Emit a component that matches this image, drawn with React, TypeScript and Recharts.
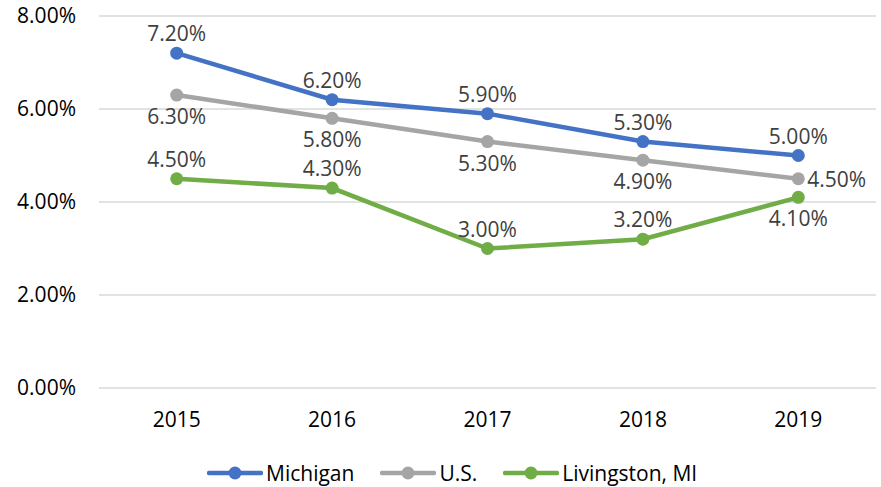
import React from "react"
import {
  LineChart, Line, XAxis, YAxis, CartesianGrid, Legend, LabelList,
} from "recharts"

const years     = ["2015", "2016", "2017", "2018", "2019"]
const michigan  = [7.2, 6.2, 5.9, 5.3, 5.0]
const us        = [6.3, 5.8, 5.3, 4.9, 4.5]
const livingston = [4.5, 4.3, 3.0, 3.2, 4.1]
const yTicks    = [0, 2, 4, 6, 8]

const series = [
  { key: "michigan",   name: "Michigan",       color: "#4472C4" },
  { key: "us",         name: "U.S.",           color: "#A5A5A5" },
  { key: "livingston", name: "Livingston, MI", color: "#70AD47" },
]

const data = years.map((year, i) => ({
  year,
  michigan: michigan[i],
  us: us[i],
  livingston: livingston[i],
}))

const FONT = "'Open Sans', sans-serif"
const FS = 21
const fmt = (v: number) => `${Number(v).toFixed(2)}%`

// where each series puts its value labels
const placement: Record<string, (i: number) => "top" | "bottom" | "right"> = {
  michigan:   () => "top",
  us:         (i) => (i === 4 ? "right" : "bottom"),
  livingston: (i) => (i === 4 ? "bottom" : "top"),
}

function makeLabel(key: string) {
  return (props: any) => {
    const { x, y, value, index } = props
    const pos = placement[key](index)
    let tx = x, ty = y, anchor: "middle" | "start" = "middle"
    if (pos === "top") ty = y - 20
    else if (pos === "bottom") ty = y + 21
    else { tx = x + 9; anchor = "start" }
    return (
      <text
        x={tx} y={ty} textAnchor={anchor} dominantBaseline="central"
        fill="#404040" fontSize={FS} fontFamily={FONT}
      >
        {fmt(value)}
      </text>
    )
  }
}

function LegendContent() {
  return (
    <div style={{
      height: 47, boxSizing: "border-box", paddingTop: 19, paddingLeft: 207,
      display: "flex", alignItems: "center", fontFamily: FONT, fontSize: FS, color: "#000",
    }}>
      {series.map((s) => (
        <div key={s.key} style={{ display: "flex", alignItems: "center", marginRight: 26 }}>
          <svg width={56} height={16} style={{ marginRight: 3 }}>
            <line x1={2} y1={8} x2={54} y2={8} stroke={s.color} strokeWidth={4.5} strokeLinecap="round" />
            <circle cx={28} cy={8} r={6.5} fill={s.color} />
          </svg>
          <span style={{ lineHeight: "21px" }}>{s.name}</span>
        </div>
      ))}
    </div>
  )
}

export default function App() {
  return (
    <div style={{ position: "absolute", left: 0, top: 0, width: 881, height: 487, background: "#fff" }}>
      <LineChart width={881} height={487} data={data} margin={{ top: 16, right: 5, left: 0, bottom: 0 }}>
        <CartesianGrid vertical={false} stroke="#D9D9D9" strokeWidth={1.5} />
        <XAxis
          dataKey="year"
          height={52}
          padding={{ left: 77.7, right: 77.7 }}
          axisLine={false} tickLine={false} tickSize={0} tickMargin={24}
          tick={{ fontSize: FS, fill: "#000", fontFamily: FONT }}
        />
        <YAxis
          width={99}
          domain={[0, 8]}
          ticks={yTicks}
          tickFormatter={fmt}
          axisLine={false} tickLine={false} tickSize={0} tickMargin={23}
          tick={{ fontSize: FS, fill: "#000", fontFamily: FONT }}
        />
        <Legend verticalAlign="bottom" height={47} content={<LegendContent />} />
        {series.map((s) => (
          <Line
            key={s.key}
            dataKey={s.key}
            name={s.name}
            stroke={s.color}
            strokeWidth={4.5}
            dot={{ r: 6.5, fill: s.color, stroke: "none" }}
            activeDot={false}
            isAnimationActive={false}
          >
            <LabelList dataKey={s.key} content={makeLabel(s.key)} />
          </Line>
        ))}
      </LineChart>
    </div>
  )
}
